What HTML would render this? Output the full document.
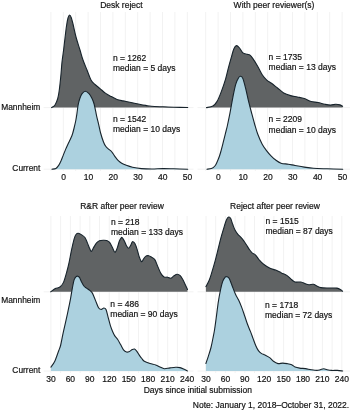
<!DOCTYPE html>
<html><head><meta charset="utf-8"><title>Figure</title>
<style>html,body{margin:0;padding:0;background:#fff}svg{display:block}</style></head>
<body>
<svg width="350" height="410" viewBox="0 0 350 410">
<rect width="350" height="410" fill="#fff"/>
<g stroke="#f2f2f2" stroke-width="1" fill="none">
<line x1="50.90" y1="12" x2="50.90" y2="171"/><line x1="63.30" y1="12" x2="63.30" y2="171"/><line x1="75.70" y1="12" x2="75.70" y2="171"/><line x1="88.10" y1="12" x2="88.10" y2="171"/><line x1="100.50" y1="12" x2="100.50" y2="171"/><line x1="112.90" y1="12" x2="112.90" y2="171"/><line x1="125.30" y1="12" x2="125.30" y2="171"/><line x1="137.70" y1="12" x2="137.70" y2="171"/><line x1="150.10" y1="12" x2="150.10" y2="171"/><line x1="162.50" y1="12" x2="162.50" y2="171"/><line x1="174.90" y1="12" x2="174.90" y2="171"/><line x1="187.30" y1="12" x2="187.30" y2="171"/>
<line x1="205.70" y1="12" x2="205.70" y2="171"/><line x1="218.10" y1="12" x2="218.10" y2="171"/><line x1="230.50" y1="12" x2="230.50" y2="171"/><line x1="242.90" y1="12" x2="242.90" y2="171"/><line x1="255.30" y1="12" x2="255.30" y2="171"/><line x1="267.70" y1="12" x2="267.70" y2="171"/><line x1="280.10" y1="12" x2="280.10" y2="171"/><line x1="292.50" y1="12" x2="292.50" y2="171"/><line x1="304.90" y1="12" x2="304.90" y2="171"/><line x1="317.30" y1="12" x2="317.30" y2="171"/><line x1="329.70" y1="12" x2="329.70" y2="171"/><line x1="342.10" y1="12" x2="342.10" y2="171"/>
<line x1="50.90" y1="216" x2="50.90" y2="373"/><line x1="60.63" y1="216" x2="60.63" y2="373"/><line x1="70.36" y1="216" x2="70.36" y2="373"/><line x1="80.09" y1="216" x2="80.09" y2="373"/><line x1="89.82" y1="216" x2="89.82" y2="373"/><line x1="99.55" y1="216" x2="99.55" y2="373"/><line x1="109.28" y1="216" x2="109.28" y2="373"/><line x1="119.01" y1="216" x2="119.01" y2="373"/><line x1="128.74" y1="216" x2="128.74" y2="373"/><line x1="138.47" y1="216" x2="138.47" y2="373"/><line x1="148.20" y1="216" x2="148.20" y2="373"/><line x1="157.93" y1="216" x2="157.93" y2="373"/><line x1="167.66" y1="216" x2="167.66" y2="373"/><line x1="177.39" y1="216" x2="177.39" y2="373"/><line x1="187.12" y1="216" x2="187.12" y2="373"/>
<line x1="206.00" y1="216" x2="206.00" y2="373"/><line x1="215.70" y1="216" x2="215.70" y2="373"/><line x1="225.40" y1="216" x2="225.40" y2="373"/><line x1="235.10" y1="216" x2="235.10" y2="373"/><line x1="244.80" y1="216" x2="244.80" y2="373"/><line x1="254.50" y1="216" x2="254.50" y2="373"/><line x1="264.20" y1="216" x2="264.20" y2="373"/><line x1="273.90" y1="216" x2="273.90" y2="373"/><line x1="283.60" y1="216" x2="283.60" y2="373"/><line x1="293.30" y1="216" x2="293.30" y2="373"/><line x1="303.00" y1="216" x2="303.00" y2="373"/><line x1="312.70" y1="216" x2="312.70" y2="373"/><line x1="322.40" y1="216" x2="322.40" y2="373"/><line x1="332.10" y1="216" x2="332.10" y2="373"/><line x1="341.80" y1="216" x2="341.80" y2="373"/>
<line x1="43.6" y1="107.6" x2="193.5" y2="107.6"/>
<line x1="43.6" y1="169.2" x2="193.5" y2="169.2"/>
<line x1="43.6" y1="291.8" x2="193.5" y2="291.8"/>
<line x1="43.6" y1="371" x2="193.5" y2="371"/>
<line x1="197.5" y1="107.6" x2="350" y2="107.6"/>
<line x1="197.5" y1="169.2" x2="350" y2="169.2"/>
<line x1="197.5" y1="291.8" x2="350" y2="291.8"/>
<line x1="197.5" y1="371" x2="350" y2="371"/>
</g>
<path d="M51.60,107.6L51.60,107.60C51.83,107.47 52.43,107.23 53.00,106.80C53.57,106.37 54.23,106.30 55.00,105.00C55.77,103.70 56.93,101.17 57.60,99.00C58.27,96.83 58.60,94.50 59.00,92.00C59.40,89.50 59.67,87.00 60.00,84.00C60.33,81.00 60.67,77.67 61.00,74.00C61.33,70.33 61.57,66.00 62.00,62.00C62.43,58.00 63.10,54.00 63.60,50.00C64.10,46.00 64.52,42.00 65.00,38.00C65.48,34.00 66.00,29.33 66.50,26.00C67.00,22.67 67.48,19.83 68.00,18.00C68.52,16.17 69.07,15.08 69.60,15.00C70.13,14.92 70.63,16.00 71.20,17.50C71.77,19.00 72.20,20.75 73.00,24.00C73.80,27.25 74.83,32.67 76.00,37.00C77.17,41.33 78.83,46.17 80.00,50.00C81.17,53.83 81.83,56.67 83.00,60.00C84.17,63.33 85.67,66.67 87.00,70.00C88.33,73.33 89.67,77.58 91.00,80.00C92.33,82.42 93.50,83.07 95.00,84.50C96.50,85.93 98.22,87.12 100.00,88.60C101.78,90.08 103.80,92.07 105.70,93.40C107.60,94.73 109.52,95.60 111.40,96.60C113.28,97.60 115.07,98.68 117.00,99.40C118.93,100.12 121.07,100.47 123.00,100.90C124.93,101.33 126.27,101.53 128.60,102.00C130.93,102.47 134.15,103.13 137.00,103.70C139.85,104.27 143.30,104.97 145.70,105.40C148.10,105.83 148.52,106.07 151.40,106.30C154.28,106.53 159.23,106.65 163.00,106.80C166.77,106.95 169.88,107.08 174.00,107.20C178.12,107.32 185.42,107.45 187.70,107.50L187.70,107.6Z" fill="#606364" stroke="none"/>
<path d="M51.60,107.60C51.83,107.47 52.43,107.23 53.00,106.80C53.57,106.37 54.23,106.30 55.00,105.00C55.77,103.70 56.93,101.17 57.60,99.00C58.27,96.83 58.60,94.50 59.00,92.00C59.40,89.50 59.67,87.00 60.00,84.00C60.33,81.00 60.67,77.67 61.00,74.00C61.33,70.33 61.57,66.00 62.00,62.00C62.43,58.00 63.10,54.00 63.60,50.00C64.10,46.00 64.52,42.00 65.00,38.00C65.48,34.00 66.00,29.33 66.50,26.00C67.00,22.67 67.48,19.83 68.00,18.00C68.52,16.17 69.07,15.08 69.60,15.00C70.13,14.92 70.63,16.00 71.20,17.50C71.77,19.00 72.20,20.75 73.00,24.00C73.80,27.25 74.83,32.67 76.00,37.00C77.17,41.33 78.83,46.17 80.00,50.00C81.17,53.83 81.83,56.67 83.00,60.00C84.17,63.33 85.67,66.67 87.00,70.00C88.33,73.33 89.67,77.58 91.00,80.00C92.33,82.42 93.50,83.07 95.00,84.50C96.50,85.93 98.22,87.12 100.00,88.60C101.78,90.08 103.80,92.07 105.70,93.40C107.60,94.73 109.52,95.60 111.40,96.60C113.28,97.60 115.07,98.68 117.00,99.40C118.93,100.12 121.07,100.47 123.00,100.90C124.93,101.33 126.27,101.53 128.60,102.00C130.93,102.47 134.15,103.13 137.00,103.70C139.85,104.27 143.30,104.97 145.70,105.40C148.10,105.83 148.52,106.07 151.40,106.30C154.28,106.53 159.23,106.65 163.00,106.80C166.77,106.95 169.88,107.08 174.00,107.20C178.12,107.32 185.42,107.45 187.70,107.50" fill="none" stroke="#17232b" stroke-width="1.1" stroke-linejoin="round" stroke-linecap="round"/>
<path d="M51.90,169.2L51.90,169.20C52.57,169.07 54.77,169.03 55.90,168.40C57.03,167.77 57.85,166.65 58.70,165.40C59.55,164.15 60.23,162.62 61.00,160.90C61.77,159.18 62.53,157.02 63.30,155.10C64.07,153.18 64.83,151.20 65.60,149.40C66.37,147.60 67.15,145.92 67.90,144.30C68.65,142.68 69.43,141.13 70.10,139.70C70.77,138.27 71.45,136.82 71.90,135.70C72.35,134.58 72.43,134.28 72.80,133.00C73.17,131.72 73.58,130.17 74.10,128.00C74.62,125.83 75.42,122.48 75.90,120.00C76.38,117.52 76.63,115.58 77.00,113.10C77.37,110.62 77.62,107.57 78.10,105.10C78.58,102.63 79.23,100.20 79.90,98.30C80.57,96.40 81.20,94.88 82.10,93.70C83.00,92.52 84.15,91.20 85.30,91.20C86.45,91.20 87.90,92.52 89.00,93.70C90.10,94.88 91.05,96.58 91.90,98.30C92.75,100.02 93.48,101.90 94.10,104.00C94.72,106.10 95.12,108.62 95.60,110.90C96.08,113.18 96.48,115.42 97.00,117.70C97.52,119.98 98.10,122.05 98.70,124.60C99.30,127.15 99.82,130.15 100.60,133.00C101.38,135.85 102.55,139.48 103.40,141.70C104.25,143.92 104.93,145.15 105.70,146.30C106.47,147.45 107.13,147.83 108.00,148.60C108.87,149.37 110.05,150.05 110.90,150.90C111.75,151.75 112.35,152.67 113.10,153.70C113.85,154.73 114.53,155.95 115.40,157.10C116.27,158.25 117.25,159.58 118.30,160.60C119.35,161.62 120.37,162.42 121.70,163.20C123.03,163.98 124.50,164.63 126.30,165.30C128.10,165.97 129.98,166.65 132.50,167.20C135.02,167.75 138.15,168.30 141.40,168.60C144.65,168.90 148.42,169.00 152.00,169.00C155.58,169.00 159.30,168.63 162.90,168.60C166.50,168.57 169.47,168.70 173.60,168.80C177.73,168.90 185.35,169.13 187.70,169.20L187.70,169.2Z" fill="#acd1df" stroke="none"/>
<path d="M51.90,169.20C52.57,169.07 54.77,169.03 55.90,168.40C57.03,167.77 57.85,166.65 58.70,165.40C59.55,164.15 60.23,162.62 61.00,160.90C61.77,159.18 62.53,157.02 63.30,155.10C64.07,153.18 64.83,151.20 65.60,149.40C66.37,147.60 67.15,145.92 67.90,144.30C68.65,142.68 69.43,141.13 70.10,139.70C70.77,138.27 71.45,136.82 71.90,135.70C72.35,134.58 72.43,134.28 72.80,133.00C73.17,131.72 73.58,130.17 74.10,128.00C74.62,125.83 75.42,122.48 75.90,120.00C76.38,117.52 76.63,115.58 77.00,113.10C77.37,110.62 77.62,107.57 78.10,105.10C78.58,102.63 79.23,100.20 79.90,98.30C80.57,96.40 81.20,94.88 82.10,93.70C83.00,92.52 84.15,91.20 85.30,91.20C86.45,91.20 87.90,92.52 89.00,93.70C90.10,94.88 91.05,96.58 91.90,98.30C92.75,100.02 93.48,101.90 94.10,104.00C94.72,106.10 95.12,108.62 95.60,110.90C96.08,113.18 96.48,115.42 97.00,117.70C97.52,119.98 98.10,122.05 98.70,124.60C99.30,127.15 99.82,130.15 100.60,133.00C101.38,135.85 102.55,139.48 103.40,141.70C104.25,143.92 104.93,145.15 105.70,146.30C106.47,147.45 107.13,147.83 108.00,148.60C108.87,149.37 110.05,150.05 110.90,150.90C111.75,151.75 112.35,152.67 113.10,153.70C113.85,154.73 114.53,155.95 115.40,157.10C116.27,158.25 117.25,159.58 118.30,160.60C119.35,161.62 120.37,162.42 121.70,163.20C123.03,163.98 124.50,164.63 126.30,165.30C128.10,165.97 129.98,166.65 132.50,167.20C135.02,167.75 138.15,168.30 141.40,168.60C144.65,168.90 148.42,169.00 152.00,169.00C155.58,169.00 159.30,168.63 162.90,168.60C166.50,168.57 169.47,168.70 173.60,168.80C177.73,168.90 185.35,169.13 187.70,169.20" fill="none" stroke="#17232b" stroke-width="1.1" stroke-linejoin="round" stroke-linecap="round"/>
<path d="M206.50,107.6L206.50,107.60C207.57,107.33 211.13,107.03 212.90,106.00C214.67,104.97 215.68,103.83 217.10,101.40C218.52,98.97 219.97,95.20 221.40,91.40C222.83,87.60 224.50,82.65 225.70,78.60C226.90,74.55 227.65,70.68 228.60,67.10C229.55,63.52 230.53,60.12 231.40,57.10C232.27,54.08 232.95,50.92 233.80,49.00C234.65,47.08 235.55,45.77 236.50,45.60C237.45,45.43 238.43,46.78 239.50,48.00C240.57,49.22 241.63,51.85 242.90,52.90C244.17,53.95 245.92,53.93 247.10,54.30C248.28,54.67 249.03,54.38 250.00,55.10C250.97,55.82 251.60,56.70 252.90,58.60C254.20,60.50 256.22,63.77 257.80,66.50C259.38,69.23 260.87,72.70 262.40,75.00C263.93,77.30 265.48,78.92 267.00,80.30C268.52,81.68 269.75,82.02 271.50,83.30C273.25,84.58 275.47,86.40 277.50,88.00C279.53,89.60 281.52,91.63 283.70,92.90C285.88,94.17 288.32,94.92 290.60,95.60C292.88,96.28 295.12,96.50 297.40,97.00C299.68,97.50 302.02,97.85 304.30,98.60C306.58,99.35 308.82,100.85 311.10,101.50C313.38,102.15 315.70,102.03 318.00,102.50C320.30,102.97 322.82,103.87 324.90,104.30C326.98,104.73 328.68,105.12 330.50,105.10C332.32,105.08 334.22,104.23 335.80,104.20C337.38,104.17 338.87,104.55 340.00,104.90C341.13,105.25 342.17,106.07 342.60,106.30L342.60,107.6Z" fill="#606364" stroke="none"/>
<path d="M206.50,107.60C207.57,107.33 211.13,107.03 212.90,106.00C214.67,104.97 215.68,103.83 217.10,101.40C218.52,98.97 219.97,95.20 221.40,91.40C222.83,87.60 224.50,82.65 225.70,78.60C226.90,74.55 227.65,70.68 228.60,67.10C229.55,63.52 230.53,60.12 231.40,57.10C232.27,54.08 232.95,50.92 233.80,49.00C234.65,47.08 235.55,45.77 236.50,45.60C237.45,45.43 238.43,46.78 239.50,48.00C240.57,49.22 241.63,51.85 242.90,52.90C244.17,53.95 245.92,53.93 247.10,54.30C248.28,54.67 249.03,54.38 250.00,55.10C250.97,55.82 251.60,56.70 252.90,58.60C254.20,60.50 256.22,63.77 257.80,66.50C259.38,69.23 260.87,72.70 262.40,75.00C263.93,77.30 265.48,78.92 267.00,80.30C268.52,81.68 269.75,82.02 271.50,83.30C273.25,84.58 275.47,86.40 277.50,88.00C279.53,89.60 281.52,91.63 283.70,92.90C285.88,94.17 288.32,94.92 290.60,95.60C292.88,96.28 295.12,96.50 297.40,97.00C299.68,97.50 302.02,97.85 304.30,98.60C306.58,99.35 308.82,100.85 311.10,101.50C313.38,102.15 315.70,102.03 318.00,102.50C320.30,102.97 322.82,103.87 324.90,104.30C326.98,104.73 328.68,105.12 330.50,105.10C332.32,105.08 334.22,104.23 335.80,104.20C337.38,104.17 338.87,104.55 340.00,104.90C341.13,105.25 342.17,106.07 342.60,106.30" fill="none" stroke="#17232b" stroke-width="1.1" stroke-linejoin="round" stroke-linecap="round"/>
<path d="M206.90,169.2L206.90,169.20C207.65,169.10 210.07,169.13 211.40,168.60C212.73,168.07 213.95,167.10 214.90,166.00C215.85,164.90 216.35,163.62 217.10,162.00C217.85,160.38 218.73,158.20 219.40,156.30C220.07,154.40 220.52,152.70 221.10,150.60C221.68,148.50 222.32,145.98 222.90,143.70C223.48,141.42 224.03,139.18 224.60,136.90C225.17,134.62 225.85,131.82 226.30,130.00C226.75,128.18 226.68,128.85 227.30,126.00C227.92,123.15 229.07,117.72 230.00,112.90C230.93,108.08 231.95,101.87 232.90,97.10C233.85,92.33 234.75,87.53 235.70,84.30C236.65,81.07 237.78,79.03 238.60,77.70C239.42,76.37 239.88,76.15 240.60,76.30C241.32,76.45 242.05,76.55 242.90,78.60C243.75,80.65 244.75,84.80 245.70,88.60C246.65,92.40 247.62,97.33 248.60,101.40C249.58,105.47 250.60,109.23 251.60,113.00C252.60,116.77 253.58,120.50 254.60,124.00C255.62,127.50 256.43,130.63 257.70,134.00C258.97,137.37 260.70,141.40 262.20,144.20C263.70,147.00 265.23,148.87 266.70,150.80C268.17,152.73 269.55,154.30 271.00,155.80C272.45,157.30 273.73,158.57 275.40,159.80C277.07,161.03 278.85,162.47 281.00,163.20C283.15,163.93 285.95,163.82 288.30,164.20C290.65,164.58 292.43,165.02 295.10,165.50C297.77,165.98 301.25,166.63 304.30,167.10C307.35,167.57 309.62,168.02 313.40,168.30C317.18,168.58 322.12,168.65 327.00,168.80C331.88,168.95 340.08,169.13 342.70,169.20L342.70,169.2Z" fill="#acd1df" stroke="none"/>
<path d="M206.90,169.20C207.65,169.10 210.07,169.13 211.40,168.60C212.73,168.07 213.95,167.10 214.90,166.00C215.85,164.90 216.35,163.62 217.10,162.00C217.85,160.38 218.73,158.20 219.40,156.30C220.07,154.40 220.52,152.70 221.10,150.60C221.68,148.50 222.32,145.98 222.90,143.70C223.48,141.42 224.03,139.18 224.60,136.90C225.17,134.62 225.85,131.82 226.30,130.00C226.75,128.18 226.68,128.85 227.30,126.00C227.92,123.15 229.07,117.72 230.00,112.90C230.93,108.08 231.95,101.87 232.90,97.10C233.85,92.33 234.75,87.53 235.70,84.30C236.65,81.07 237.78,79.03 238.60,77.70C239.42,76.37 239.88,76.15 240.60,76.30C241.32,76.45 242.05,76.55 242.90,78.60C243.75,80.65 244.75,84.80 245.70,88.60C246.65,92.40 247.62,97.33 248.60,101.40C249.58,105.47 250.60,109.23 251.60,113.00C252.60,116.77 253.58,120.50 254.60,124.00C255.62,127.50 256.43,130.63 257.70,134.00C258.97,137.37 260.70,141.40 262.20,144.20C263.70,147.00 265.23,148.87 266.70,150.80C268.17,152.73 269.55,154.30 271.00,155.80C272.45,157.30 273.73,158.57 275.40,159.80C277.07,161.03 278.85,162.47 281.00,163.20C283.15,163.93 285.95,163.82 288.30,164.20C290.65,164.58 292.43,165.02 295.10,165.50C297.77,165.98 301.25,166.63 304.30,167.10C307.35,167.57 309.62,168.02 313.40,168.30C317.18,168.58 322.12,168.65 327.00,168.80C331.88,168.95 340.08,169.13 342.70,169.20" fill="none" stroke="#17232b" stroke-width="1.1" stroke-linejoin="round" stroke-linecap="round"/>
<path d="M50.70,291.8L50.70,291.80C51.47,291.27 53.77,289.40 55.30,288.60C56.83,287.80 58.53,288.03 59.90,287.00C61.27,285.97 62.32,285.07 63.50,282.40C64.68,279.73 66.07,274.35 67.00,271.00C67.93,267.65 68.45,265.28 69.10,262.30C69.75,259.32 70.32,255.97 70.90,253.10C71.48,250.23 72.03,247.57 72.60,245.10C73.17,242.63 73.73,240.07 74.30,238.30C74.87,236.53 75.33,235.33 76.00,234.50C76.67,233.67 77.35,233.23 78.30,233.30C79.25,233.37 80.57,234.17 81.70,234.90C82.83,235.63 84.15,236.37 85.10,237.70C86.05,239.03 86.63,241.08 87.40,242.90C88.17,244.72 89.03,247.18 89.70,248.60C90.37,250.02 90.73,251.60 91.40,251.40C92.07,251.20 92.83,248.82 93.70,247.40C94.57,245.98 95.65,244.02 96.60,242.90C97.55,241.78 98.27,241.15 99.40,240.70C100.53,240.25 102.18,240.23 103.40,240.20C104.62,240.17 105.67,240.13 106.70,240.50C107.73,240.87 108.65,241.22 109.60,242.40C110.55,243.58 111.52,245.97 112.40,247.60C113.28,249.23 114.10,252.12 114.90,252.20C115.70,252.28 116.47,249.92 117.20,248.10C117.93,246.28 118.63,243.02 119.30,241.30C119.97,239.58 120.68,238.37 121.20,237.80C121.72,237.23 121.85,237.32 122.40,237.90C122.95,238.48 123.77,239.90 124.50,241.30C125.23,242.70 126.12,245.13 126.80,246.30C127.48,247.47 127.97,248.42 128.60,248.30C129.23,248.18 130.03,246.58 130.60,245.60C131.17,244.62 131.60,243.05 132.00,242.40C132.40,241.75 132.52,241.50 133.00,241.70C133.48,241.90 134.22,242.33 134.90,243.60C135.58,244.87 136.35,247.02 137.10,249.30C137.85,251.58 138.65,255.22 139.40,257.30C140.15,259.38 140.90,261.53 141.60,261.80C142.30,262.07 142.88,259.85 143.60,258.90C144.32,257.95 145.03,256.63 145.90,256.10C146.77,255.57 147.85,255.50 148.80,255.70C149.75,255.90 150.60,256.65 151.60,257.30C152.60,257.95 153.77,258.05 154.80,259.60C155.83,261.15 156.77,264.27 157.80,266.60C158.83,268.93 159.95,271.87 161.00,273.60C162.05,275.33 163.00,276.40 164.10,277.00C165.20,277.60 166.45,277.00 167.60,277.20C168.75,277.40 169.93,278.43 171.00,278.20C172.07,277.97 172.97,276.47 174.00,275.80C175.03,275.13 176.17,274.23 177.20,274.20C178.23,274.17 179.27,274.70 180.20,275.60C181.13,276.50 181.93,278.05 182.80,279.60C183.67,281.15 184.62,283.25 185.40,284.90C186.18,286.55 187.15,288.73 187.50,289.50L187.50,291.8Z" fill="#606364" stroke="none"/>
<path d="M50.70,291.80C51.47,291.27 53.77,289.40 55.30,288.60C56.83,287.80 58.53,288.03 59.90,287.00C61.27,285.97 62.32,285.07 63.50,282.40C64.68,279.73 66.07,274.35 67.00,271.00C67.93,267.65 68.45,265.28 69.10,262.30C69.75,259.32 70.32,255.97 70.90,253.10C71.48,250.23 72.03,247.57 72.60,245.10C73.17,242.63 73.73,240.07 74.30,238.30C74.87,236.53 75.33,235.33 76.00,234.50C76.67,233.67 77.35,233.23 78.30,233.30C79.25,233.37 80.57,234.17 81.70,234.90C82.83,235.63 84.15,236.37 85.10,237.70C86.05,239.03 86.63,241.08 87.40,242.90C88.17,244.72 89.03,247.18 89.70,248.60C90.37,250.02 90.73,251.60 91.40,251.40C92.07,251.20 92.83,248.82 93.70,247.40C94.57,245.98 95.65,244.02 96.60,242.90C97.55,241.78 98.27,241.15 99.40,240.70C100.53,240.25 102.18,240.23 103.40,240.20C104.62,240.17 105.67,240.13 106.70,240.50C107.73,240.87 108.65,241.22 109.60,242.40C110.55,243.58 111.52,245.97 112.40,247.60C113.28,249.23 114.10,252.12 114.90,252.20C115.70,252.28 116.47,249.92 117.20,248.10C117.93,246.28 118.63,243.02 119.30,241.30C119.97,239.58 120.68,238.37 121.20,237.80C121.72,237.23 121.85,237.32 122.40,237.90C122.95,238.48 123.77,239.90 124.50,241.30C125.23,242.70 126.12,245.13 126.80,246.30C127.48,247.47 127.97,248.42 128.60,248.30C129.23,248.18 130.03,246.58 130.60,245.60C131.17,244.62 131.60,243.05 132.00,242.40C132.40,241.75 132.52,241.50 133.00,241.70C133.48,241.90 134.22,242.33 134.90,243.60C135.58,244.87 136.35,247.02 137.10,249.30C137.85,251.58 138.65,255.22 139.40,257.30C140.15,259.38 140.90,261.53 141.60,261.80C142.30,262.07 142.88,259.85 143.60,258.90C144.32,257.95 145.03,256.63 145.90,256.10C146.77,255.57 147.85,255.50 148.80,255.70C149.75,255.90 150.60,256.65 151.60,257.30C152.60,257.95 153.77,258.05 154.80,259.60C155.83,261.15 156.77,264.27 157.80,266.60C158.83,268.93 159.95,271.87 161.00,273.60C162.05,275.33 163.00,276.40 164.10,277.00C165.20,277.60 166.45,277.00 167.60,277.20C168.75,277.40 169.93,278.43 171.00,278.20C172.07,277.97 172.97,276.47 174.00,275.80C175.03,275.13 176.17,274.23 177.20,274.20C178.23,274.17 179.27,274.70 180.20,275.60C181.13,276.50 181.93,278.05 182.80,279.60C183.67,281.15 184.62,283.25 185.40,284.90C186.18,286.55 187.15,288.73 187.50,289.50" fill="none" stroke="#17232b" stroke-width="1.1" stroke-linejoin="round" stroke-linecap="round"/>
<path d="M50.90,371L50.90,367.10C51.55,366.12 53.52,363.88 54.80,361.20C56.08,358.52 57.62,353.70 58.60,351.00C59.58,348.30 59.97,347.90 60.70,345.00C61.43,342.10 62.18,337.42 63.00,333.60C63.82,329.78 64.75,325.92 65.60,322.10C66.45,318.28 67.30,314.50 68.10,310.70C68.90,306.90 69.68,303.10 70.40,299.30C71.12,295.50 71.78,291.13 72.40,287.90C73.02,284.67 73.47,281.78 74.10,279.90C74.73,278.02 75.58,277.22 76.20,276.60C76.82,275.98 77.23,276.03 77.80,276.20C78.37,276.37 78.97,276.62 79.60,277.60C80.23,278.58 80.88,280.70 81.60,282.10C82.32,283.50 83.15,285.03 83.90,286.00C84.65,286.97 85.27,287.28 86.10,287.90C86.93,288.52 87.93,288.95 88.90,289.70C89.87,290.45 91.03,291.18 91.90,292.40C92.77,293.62 93.35,295.28 94.10,297.00C94.85,298.72 95.63,300.87 96.40,302.70C97.17,304.53 97.87,306.88 98.70,308.00C99.53,309.12 100.55,309.40 101.40,309.40C102.25,309.40 103.03,307.97 103.80,308.00C104.57,308.03 105.27,308.00 106.00,309.60C106.73,311.20 107.47,314.93 108.20,317.60C108.93,320.27 109.67,323.28 110.40,325.60C111.13,327.92 111.87,329.78 112.60,331.50C113.33,333.22 113.95,334.57 114.80,335.90C115.65,337.23 116.73,338.05 117.70,339.50C118.67,340.95 119.63,342.88 120.60,344.60C121.57,346.32 122.52,348.57 123.50,349.80C124.48,351.03 125.52,351.72 126.50,352.00C127.48,352.28 128.43,351.92 129.40,351.50C130.37,351.08 131.45,349.92 132.30,349.50C133.15,349.08 133.77,348.72 134.50,349.00C135.23,349.28 135.85,350.10 136.70,351.20C137.55,352.30 138.75,354.38 139.60,355.60C140.45,356.82 141.02,357.55 141.80,358.50C142.58,359.45 142.93,360.45 144.30,361.30C145.67,362.15 148.10,362.98 150.00,363.60C151.90,364.22 154.03,364.43 155.70,365.00C157.37,365.57 158.57,366.38 160.00,367.00C161.43,367.62 162.63,368.55 164.30,368.70C165.97,368.85 168.10,368.13 170.00,367.90C171.90,367.67 174.03,367.35 175.70,367.30C177.37,367.25 178.57,367.27 180.00,367.60C181.43,367.93 183.12,368.78 184.30,369.30C185.48,369.82 186.60,370.42 187.10,370.70C187.60,370.98 187.27,370.95 187.30,371.00L187.30,371Z" fill="#acd1df" stroke="none"/>
<path d="M50.90,367.10C51.55,366.12 53.52,363.88 54.80,361.20C56.08,358.52 57.62,353.70 58.60,351.00C59.58,348.30 59.97,347.90 60.70,345.00C61.43,342.10 62.18,337.42 63.00,333.60C63.82,329.78 64.75,325.92 65.60,322.10C66.45,318.28 67.30,314.50 68.10,310.70C68.90,306.90 69.68,303.10 70.40,299.30C71.12,295.50 71.78,291.13 72.40,287.90C73.02,284.67 73.47,281.78 74.10,279.90C74.73,278.02 75.58,277.22 76.20,276.60C76.82,275.98 77.23,276.03 77.80,276.20C78.37,276.37 78.97,276.62 79.60,277.60C80.23,278.58 80.88,280.70 81.60,282.10C82.32,283.50 83.15,285.03 83.90,286.00C84.65,286.97 85.27,287.28 86.10,287.90C86.93,288.52 87.93,288.95 88.90,289.70C89.87,290.45 91.03,291.18 91.90,292.40C92.77,293.62 93.35,295.28 94.10,297.00C94.85,298.72 95.63,300.87 96.40,302.70C97.17,304.53 97.87,306.88 98.70,308.00C99.53,309.12 100.55,309.40 101.40,309.40C102.25,309.40 103.03,307.97 103.80,308.00C104.57,308.03 105.27,308.00 106.00,309.60C106.73,311.20 107.47,314.93 108.20,317.60C108.93,320.27 109.67,323.28 110.40,325.60C111.13,327.92 111.87,329.78 112.60,331.50C113.33,333.22 113.95,334.57 114.80,335.90C115.65,337.23 116.73,338.05 117.70,339.50C118.67,340.95 119.63,342.88 120.60,344.60C121.57,346.32 122.52,348.57 123.50,349.80C124.48,351.03 125.52,351.72 126.50,352.00C127.48,352.28 128.43,351.92 129.40,351.50C130.37,351.08 131.45,349.92 132.30,349.50C133.15,349.08 133.77,348.72 134.50,349.00C135.23,349.28 135.85,350.10 136.70,351.20C137.55,352.30 138.75,354.38 139.60,355.60C140.45,356.82 141.02,357.55 141.80,358.50C142.58,359.45 142.93,360.45 144.30,361.30C145.67,362.15 148.10,362.98 150.00,363.60C151.90,364.22 154.03,364.43 155.70,365.00C157.37,365.57 158.57,366.38 160.00,367.00C161.43,367.62 162.63,368.55 164.30,368.70C165.97,368.85 168.10,368.13 170.00,367.90C171.90,367.67 174.03,367.35 175.70,367.30C177.37,367.25 178.57,367.27 180.00,367.60C181.43,367.93 183.12,368.78 184.30,369.30C185.48,369.82 186.60,370.42 187.10,370.70C187.60,370.98 187.27,370.95 187.30,371.00" fill="none" stroke="#17232b" stroke-width="1.1" stroke-linejoin="round" stroke-linecap="round"/>
<path d="M205.90,291.8L205.90,286.60C206.47,285.50 208.27,282.53 209.30,280.00C210.33,277.47 211.15,274.50 212.10,271.40C213.05,268.30 214.03,264.97 215.00,261.40C215.97,257.83 216.95,253.80 217.90,250.00C218.85,246.20 219.75,242.17 220.70,238.60C221.65,235.03 222.65,231.70 223.60,228.60C224.55,225.50 225.55,221.92 226.40,220.00C227.25,218.08 227.98,217.33 228.70,217.10C229.42,216.87 230.03,217.40 230.70,218.60C231.37,219.80 231.98,222.40 232.70,224.30C233.42,226.20 234.13,228.33 235.00,230.00C235.87,231.67 236.95,233.12 237.90,234.30C238.85,235.48 239.75,236.05 240.70,237.10C241.65,238.15 242.65,239.32 243.60,240.60C244.55,241.88 245.45,243.33 246.40,244.80C247.35,246.27 248.35,248.05 249.30,249.40C250.25,250.75 251.05,251.95 252.10,252.90C253.15,253.85 254.40,253.92 255.60,255.10C256.80,256.28 257.97,258.47 259.30,260.00C260.63,261.53 261.82,262.92 263.60,264.30C265.38,265.68 267.98,267.33 270.00,268.30C272.02,269.27 273.80,269.33 275.70,270.10C277.60,270.87 279.50,271.98 281.40,272.90C283.30,273.82 285.38,274.47 287.10,275.60C288.82,276.73 290.37,278.63 291.70,279.70C293.03,280.77 293.57,281.62 295.10,282.00C296.63,282.38 299.18,281.70 300.90,282.00C302.62,282.30 304.07,283.35 305.40,283.80C306.73,284.25 307.57,284.62 308.90,284.70C310.23,284.78 312.07,284.07 313.40,284.30C314.73,284.53 315.65,285.55 316.90,286.10C318.15,286.65 319.20,287.28 320.90,287.60C322.60,287.92 325.10,287.93 327.10,288.00C329.10,288.07 331.25,287.98 332.90,288.00C334.55,288.02 335.77,287.87 337.00,288.10C338.23,288.33 339.37,288.88 340.30,289.40C341.23,289.92 342.22,290.90 342.60,291.20L342.60,291.8Z" fill="#606364" stroke="none"/>
<path d="M205.90,286.60C206.47,285.50 208.27,282.53 209.30,280.00C210.33,277.47 211.15,274.50 212.10,271.40C213.05,268.30 214.03,264.97 215.00,261.40C215.97,257.83 216.95,253.80 217.90,250.00C218.85,246.20 219.75,242.17 220.70,238.60C221.65,235.03 222.65,231.70 223.60,228.60C224.55,225.50 225.55,221.92 226.40,220.00C227.25,218.08 227.98,217.33 228.70,217.10C229.42,216.87 230.03,217.40 230.70,218.60C231.37,219.80 231.98,222.40 232.70,224.30C233.42,226.20 234.13,228.33 235.00,230.00C235.87,231.67 236.95,233.12 237.90,234.30C238.85,235.48 239.75,236.05 240.70,237.10C241.65,238.15 242.65,239.32 243.60,240.60C244.55,241.88 245.45,243.33 246.40,244.80C247.35,246.27 248.35,248.05 249.30,249.40C250.25,250.75 251.05,251.95 252.10,252.90C253.15,253.85 254.40,253.92 255.60,255.10C256.80,256.28 257.97,258.47 259.30,260.00C260.63,261.53 261.82,262.92 263.60,264.30C265.38,265.68 267.98,267.33 270.00,268.30C272.02,269.27 273.80,269.33 275.70,270.10C277.60,270.87 279.50,271.98 281.40,272.90C283.30,273.82 285.38,274.47 287.10,275.60C288.82,276.73 290.37,278.63 291.70,279.70C293.03,280.77 293.57,281.62 295.10,282.00C296.63,282.38 299.18,281.70 300.90,282.00C302.62,282.30 304.07,283.35 305.40,283.80C306.73,284.25 307.57,284.62 308.90,284.70C310.23,284.78 312.07,284.07 313.40,284.30C314.73,284.53 315.65,285.55 316.90,286.10C318.15,286.65 319.20,287.28 320.90,287.60C322.60,287.92 325.10,287.93 327.10,288.00C329.10,288.07 331.25,287.98 332.90,288.00C334.55,288.02 335.77,287.87 337.00,288.10C338.23,288.33 339.37,288.88 340.30,289.40C341.23,289.92 342.22,290.90 342.60,291.20" fill="none" stroke="#17232b" stroke-width="1.1" stroke-linejoin="round" stroke-linecap="round"/>
<path d="M205.90,371L205.90,363.50C206.32,362.27 207.55,358.77 208.40,356.10C209.25,353.43 210.23,350.52 211.00,347.50C211.77,344.48 212.40,341.00 213.00,338.00C213.60,335.00 214.07,332.83 214.60,329.50C215.13,326.17 215.57,322.68 216.20,318.00C216.83,313.32 217.68,306.07 218.40,301.40C219.12,296.73 219.78,293.33 220.50,290.00C221.22,286.67 221.92,283.55 222.70,281.40C223.48,279.25 224.52,277.88 225.20,277.10C225.88,276.32 226.12,276.45 226.80,276.70C227.48,276.95 228.42,277.10 229.30,278.60C230.18,280.10 231.07,283.08 232.10,285.70C233.13,288.32 234.42,291.92 235.50,294.30C236.58,296.68 237.58,297.87 238.60,300.00C239.62,302.13 240.60,304.48 241.60,307.10C242.60,309.72 243.62,312.83 244.60,315.70C245.58,318.57 246.53,321.68 247.50,324.30C248.47,326.92 249.47,329.02 250.40,331.40C251.33,333.78 252.20,336.22 253.10,338.60C254.00,340.98 254.92,343.70 255.80,345.70C256.68,347.70 257.48,349.32 258.40,350.60C259.32,351.88 260.20,352.65 261.30,353.40C262.40,354.15 263.55,354.35 265.00,355.10C266.45,355.85 268.60,356.87 270.00,357.90C271.40,358.93 272.07,360.35 273.40,361.30C274.73,362.25 276.47,363.30 278.00,363.60C279.53,363.90 281.08,363.10 282.60,363.10C284.12,363.10 285.58,363.33 287.10,363.60C288.62,363.87 290.37,364.13 291.70,364.70C293.03,365.27 293.77,366.43 295.10,367.00C296.43,367.57 297.98,367.83 299.70,368.10C301.42,368.37 303.50,368.33 305.40,368.60C307.30,368.87 309.18,369.40 311.10,369.70C313.02,370.00 315.37,370.40 316.90,370.40C318.43,370.40 319.17,369.97 320.30,369.70C321.43,369.43 322.57,368.80 323.70,368.80C324.83,368.80 325.77,369.43 327.10,369.70C328.43,369.97 329.98,370.28 331.70,370.40C333.42,370.52 335.57,370.30 337.40,370.40C339.23,370.50 341.82,370.90 342.70,371.00L342.70,371Z" fill="#acd1df" stroke="none"/>
<path d="M205.90,363.50C206.32,362.27 207.55,358.77 208.40,356.10C209.25,353.43 210.23,350.52 211.00,347.50C211.77,344.48 212.40,341.00 213.00,338.00C213.60,335.00 214.07,332.83 214.60,329.50C215.13,326.17 215.57,322.68 216.20,318.00C216.83,313.32 217.68,306.07 218.40,301.40C219.12,296.73 219.78,293.33 220.50,290.00C221.22,286.67 221.92,283.55 222.70,281.40C223.48,279.25 224.52,277.88 225.20,277.10C225.88,276.32 226.12,276.45 226.80,276.70C227.48,276.95 228.42,277.10 229.30,278.60C230.18,280.10 231.07,283.08 232.10,285.70C233.13,288.32 234.42,291.92 235.50,294.30C236.58,296.68 237.58,297.87 238.60,300.00C239.62,302.13 240.60,304.48 241.60,307.10C242.60,309.72 243.62,312.83 244.60,315.70C245.58,318.57 246.53,321.68 247.50,324.30C248.47,326.92 249.47,329.02 250.40,331.40C251.33,333.78 252.20,336.22 253.10,338.60C254.00,340.98 254.92,343.70 255.80,345.70C256.68,347.70 257.48,349.32 258.40,350.60C259.32,351.88 260.20,352.65 261.30,353.40C262.40,354.15 263.55,354.35 265.00,355.10C266.45,355.85 268.60,356.87 270.00,357.90C271.40,358.93 272.07,360.35 273.40,361.30C274.73,362.25 276.47,363.30 278.00,363.60C279.53,363.90 281.08,363.10 282.60,363.10C284.12,363.10 285.58,363.33 287.10,363.60C288.62,363.87 290.37,364.13 291.70,364.70C293.03,365.27 293.77,366.43 295.10,367.00C296.43,367.57 297.98,367.83 299.70,368.10C301.42,368.37 303.50,368.33 305.40,368.60C307.30,368.87 309.18,369.40 311.10,369.70C313.02,370.00 315.37,370.40 316.90,370.40C318.43,370.40 319.17,369.97 320.30,369.70C321.43,369.43 322.57,368.80 323.70,368.80C324.83,368.80 325.77,369.43 327.10,369.70C328.43,369.97 329.98,370.28 331.70,370.40C333.42,370.52 335.57,370.30 337.40,370.40C339.23,370.50 341.82,370.90 342.70,371.00" fill="none" stroke="#17232b" stroke-width="1.1" stroke-linejoin="round" stroke-linecap="round"/>
<g font-family='"Liberation Sans", Arial, Helvetica, sans-serif' font-size="8.5" fill="#111" stroke="#111" stroke-width="0.18">
<text x="121.4" y="7.8" text-anchor="middle">Desk reject</text>
<text x="274" y="7.8" text-anchor="middle">With peer reviewer(s)</text>
<text x="122" y="208.7" text-anchor="middle">R&amp;R after peer review</text>
<text x="275" y="208.6" text-anchor="middle">Reject after peer review</text>
<text x="40.3" y="110.0" text-anchor="end" font-size="8.4">Mannheim</text>
<text x="40.3" y="171.4" text-anchor="end" font-size="8.4">Current</text>
<text x="40.3" y="303.2" text-anchor="end" font-size="8.4">Mannheim</text>
<text x="40.3" y="373.3" text-anchor="end" font-size="8.4">Current</text>
<text x="63.6" y="180.1" text-anchor="middle">0</text>
<text x="218.3" y="180.1" text-anchor="middle">0</text>
<text x="88.4" y="180.1" text-anchor="middle">10</text>
<text x="243.13" y="180.1" text-anchor="middle">10</text>
<text x="113.2" y="180.1" text-anchor="middle">20</text>
<text x="267.96" y="180.1" text-anchor="middle">20</text>
<text x="138.0" y="180.1" text-anchor="middle">30</text>
<text x="292.79" y="180.1" text-anchor="middle">30</text>
<text x="162.8" y="180.1" text-anchor="middle">40</text>
<text x="317.62" y="180.1" text-anchor="middle">40</text>
<text x="187.6" y="180.1" text-anchor="middle">50</text>
<text x="342.45" y="180.1" text-anchor="middle">50</text>
<text x="50.9" y="381.5" text-anchor="middle">30</text>
<text x="206.0" y="381.5" text-anchor="middle">30</text>
<text x="70.36" y="381.5" text-anchor="middle">60</text>
<text x="225.4" y="381.5" text-anchor="middle">60</text>
<text x="89.82" y="381.5" text-anchor="middle">90</text>
<text x="244.8" y="381.5" text-anchor="middle">90</text>
<text x="109.28" y="381.5" text-anchor="middle">120</text>
<text x="264.2" y="381.5" text-anchor="middle">120</text>
<text x="128.74" y="381.5" text-anchor="middle">150</text>
<text x="283.6" y="381.5" text-anchor="middle">150</text>
<text x="148.2" y="381.5" text-anchor="middle">180</text>
<text x="303.0" y="381.5" text-anchor="middle">180</text>
<text x="167.66" y="381.5" text-anchor="middle">210</text>
<text x="322.4" y="381.5" text-anchor="middle">210</text>
<text x="187.12" y="381.5" text-anchor="middle">240</text>
<text x="341.8" y="381.5" text-anchor="middle">240</text>
<text x="112.9" y="60.6">n = 1262</text>
<text x="112.9" y="70.6">median = 5 days</text>
<text x="112.9" y="121.6">n = 1542</text>
<text x="112.9" y="132">median = 10 days</text>
<text x="268.6" y="60">n = 1735</text>
<text x="268.6" y="70.3">median = 13 days</text>
<text x="268.6" y="122">n = 2209</text>
<text x="268.6" y="132.5">median = 10 days</text>
<text x="110.9" y="225">n = 218</text>
<text x="110.9" y="235">median = 133 days</text>
<text x="110.3" y="307.2">n = 486</text>
<text x="110.3" y="317.4">median = 90 days</text>
<text x="265.5" y="224.3">n = 1515</text>
<text x="265.5" y="234.3">median = 87 days</text>
<text x="265" y="307.6">n = 1718</text>
<text x="265" y="317.9">median = 72 days</text>
<text x="197.8" y="392.5" text-anchor="middle">Days since initial submission</text>
<text x="349.2" y="407.5" text-anchor="end">Note: January 1, 2018–October 31, 2022.</text>
</g>
</svg>
</body></html>
